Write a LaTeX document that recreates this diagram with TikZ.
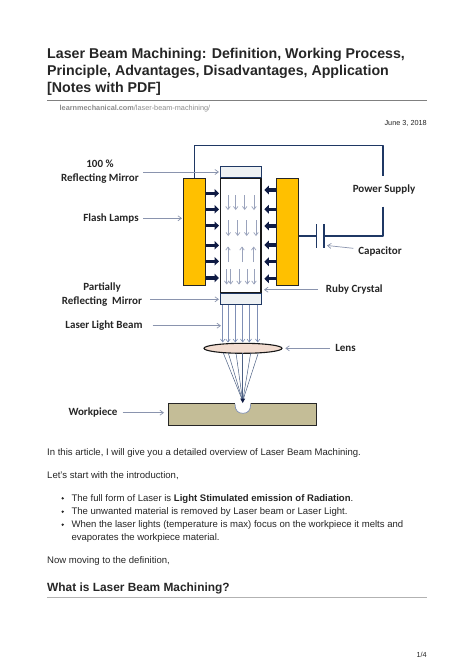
\documentclass[tikz,border=0pt]{standalone}
\usepackage{fontspec}
\setmainfont{Liberation Sans}
\newfontfamily\lbl{Carlito}
\usetikzlibrary{arrows.meta,shapes.geometric}
\definecolor{wire}{HTML}{1F3864}
\definecolor{pointer}{HTML}{8A94AE}
\definecolor{lamp}{HTML}{FFC000}
\definecolor{dark}{HTML}{0F1B44}
\definecolor{inner}{HTML}{9AA3BC}
\definecolor{beam}{HTML}{7F8FB5}
\definecolor{wp}{HTML}{C4BD97}
\definecolor{lensfill}{HTML}{F2DCD0}
\definecolor{mirrorfill}{HTML}{EEF1F3}
\tikzset{
 lbltext/.style={font=\lbl\bfseries\fontsize{11}{14}\selectfont,text=black!85,align=center,inner sep=0pt},
 pagetext/.style={font=\fontsize{9.55}{12}\selectfont,text=black!85,anchor=base west,inner sep=0pt},
 titletext/.style={font=\bfseries\fontsize{14.2}{17}\selectfont,text=black!85,anchor=base west,inner sep=0pt},
 wireline/.style={draw=wire,line width=1.1pt},
 pointerline/.style={draw=pointer,line width=.7pt,-{Straight Barb[length=3.5pt,width=5pt]}},
 pump/.style={draw=dark,line width=3.4pt,-{Triangle[length=4.5pt,width=8.5pt]}},
 innerarrow/.style={draw=inner,line width=.7pt,-{Straight Barb[length=3pt,width=4.5pt]}},
 beamline/.style={draw=beam,line width=.6pt,-{Straight Barb[length=3pt,width=4.5pt]}},
 focus/.style={draw=wire!80,line width=.5pt},
 lampbox/.style={draw=black!85,fill=lamp,line width=.9pt,inner sep=0pt,minimum width=22pt,minimum height=107pt},
 mirror/.style={draw=wire,fill=mirrorfill,line width=.9pt,inner sep=0pt,minimum width=40.3pt,minimum height=11pt},
}
\begin{document}
\begin{tikzpicture}[x=1pt,y=-1pt]
\useasboundingbox[fill=white] (0,0) rectangle (474,670);
% page text
\node[titletext] (t1) at (47,58) {Laser Beam Machining: Definition, Working Process,};
\node[titletext] (t2) at (47,75) {Principle, Advantages, Disadvantages, Application};
\node[titletext] (t3) at (47,92) {[Notes with PDF]};
\coordinate (r1a) at (47,100); \coordinate (r1b) at (427,100);
\draw[black!50,line width=.9pt] (r1a) -- (r1b);
\node[pagetext,font=\fontsize{7.3}{9}\selectfont,text=black!45] (url) at (59.5,110.5) {\textbf{learnmechanical.com}/laser-beam-machining/};
\node[pagetext,anchor=base east,font=\fontsize{7.3}{9}\selectfont] (date) at (427,125.5) {June 3, 2018};
\node[pagetext] (p1) at (47,455) {In this article, I will give you a detailed overview of Laser Beam Machining.};
\node[pagetext] (p2) at (47,478.5) {Let's start with the introduction,};
\node[pagetext] (b1) at (71.3,501) {The full form of Laser is \textbf{Light Stimulated emission of Radiation}.};
\node[pagetext] (b2) at (71.3,514) {The unwanted material is removed by Laser beam or Laser Light.};
\node[pagetext] (b3) at (71.3,527) {When the laser lights (temperature is max) focus on the workpiece it melts and};
\node[pagetext] (b3b) at (71.3,540) {evaporates the workpiece material.};
\foreach \yy in {498.3,511.7,524.7} \fill[black!85] (62.7,\yy) circle (1.3pt);
\node[pagetext] (p3) at (47,563) {Now moving to the definition,};
\node[titletext,font=\bfseries\fontsize{11.9}{15}\selectfont] (h2) at (47,591) {What is Laser Beam Machining?};
\coordinate (r2a) at (47,597.7); \coordinate (r2b) at (427,597.7);
\draw[black!30,line width=1.2pt] (r2a) -- (r2b);
\node[pagetext,anchor=base east,font=\fontsize{7.3}{9}\selectfont] (pg) at (427,657) {1/4};
% wires
\coordinate (w1) at (194.3,179); \coordinate (w2) at (194.3,145.7); \coordinate (w3) at (383,145.7); \coordinate (w4) at (383,176);
\coordinate (w5) at (383,206.7); \coordinate (w6) at (383,236); \coordinate (w7) at (324,236); \coordinate (w8) at (316.7,236); \coordinate (w9) at (298,236);
\draw[wireline,line join=round] (w1) -- (w2) -- (w3) -- (w4);
\draw[wireline,line join=round] (w5) -- (w6) -- (w7);
\draw[wireline] (w8) -- (w9);
\coordinate (c1a) at (316.7,224); \coordinate (c1b) at (316.7,247.5);
\coordinate (c2a) at (324,224); \coordinate (c2b) at (324,247.5);
\draw[wireline] (c1a) -- (c1b);
\draw[wireline] (c2a) -- (c2b);
% laser
\node[lampbox] (lampL) at (194.6,232.2) {};
\node[lampbox] (lampR) at (287,232.2) {};
\node[draw=black!90,fill=white,line width=1.1pt,inner sep=0pt,minimum width=40.3pt,minimum height=115pt] (tube) at (240.85,235.5) {};
\node[mirror] (mtop) at (240.85,172.4) {};
\node[mirror] (mbot) at (240.85,298.5) {};
\foreach \yy in {193.3,209.3,225.7,245.3,261.3,278} \draw[pump] (206,\yy) -- (219,\yy);
\foreach \yy in {190,209.3,226,245,261.7,278.7} \draw[pump] (275.7,\yy) -- (264.3,\yy);
\foreach \xx in {228,235.7,244.7,254} \draw[innerarrow] (\xx,195) -- (\xx,210);
\foreach \xx in {228.3,237.7,246.7,256} \draw[innerarrow] (\xx,220) -- (\xx,236);
\foreach \xx in {228,242,253.7} \draw[innerarrow] (\xx,262) -- (\xx,246.5);
\foreach \xx in {226.7,230.7,239,247.3,254} \draw[innerarrow] (\xx,269) -- (\xx,284.5);
% beam
\foreach \xx in {222.7,228,235.3,242.7,249.3,257.7} \draw[beamline] (\xx,304.5) -- (\xx,342.5);
\node[ellipse,draw=black!90,fill=lensfill,line width=1.1pt,inner sep=0pt,minimum width=78pt,minimum height=10pt] (lens) at (243,348.3) {};
% workpiece
\node[draw=black!85,fill=wp,line width=1pt,inner sep=0pt,minimum width=148pt,minimum height=22pt] (work) at (242.7,414.7) {};
\fill[white] (235,403.2) .. controls (235,410.5) and (238,413.3) .. (242.85,413.3) .. controls (247.7,413.3) and (250.7,410.5) .. (250.7,403.2) -- cycle;
\draw[beam,line width=.7pt] (235,404) .. controls (235,410.5) and (238,413.3) .. (242.85,413.3) .. controls (247.7,413.3) and (250.7,410.5) .. (250.7,404);
\coordinate (fp) at (242.7,401);
\foreach \xx in {223.3,228.3,236,242.7,250.7,258.3} \draw[focus] (\xx,353) -- (fp);
\fill[dark] (240.2,398.5) -- (245.2,398.5) -- (242.7,403) -- cycle;
% labels
\node[lbltext] (lmirror) at (100,172) {100 \%\\Reflecting Mirror};
\node[lbltext] (lflash) at (111,218.3) {Flash Lamps};
\node[lbltext] (lpart) at (102,294.8) {Partially\\Reflecting\ \ Mirror};
\node[lbltext] (lbeam) at (104,325.7) {Laser Light Beam};
\node[lbltext] (llens) at (345.5,348.3) {Lens};
\node[lbltext] (lwork) at (93,412.7) {Workpiece};
\node[lbltext] (lpower) at (384,190) {Power Supply};
\node[lbltext] (lcap) at (380,251.7) {Capacitor};
\node[lbltext] (lruby) at (354.3,289.7) {Ruby Crystal};
% pointers
\coordinate (pm) at (143,172); \coordinate (pf) at (143,218.3); \coordinate (pp) at (150,299.3);
\coordinate (pb) at (152.7,325.7); \coordinate (pl) at (330,348.3); \coordinate (pw) at (122.7,412.7);
\coordinate (pc) at (353.3,248.3); \coordinate (pr) at (318,289.7);
\coordinate (em) at (219,172); \coordinate (ef) at (182,218.3); \coordinate (ep) at (219,299.3);
\coordinate (eb) at (221,325.7); \coordinate (el) at (285.3,348.3); \coordinate (ew) at (164,412.7);
\coordinate (ec) at (327,245.5); \coordinate (er) at (264,289.7);
\draw[pointerline] (pm) -- (em);
\draw[pointerline] (pf) -- (ef);
\draw[pointerline] (pp) -- (ep);
\draw[pointerline] (pb) -- (eb);
\draw[pointerline] (pl) -- (el);
\draw[pointerline] (pw) -- (ew);
\draw[pointerline] (pc) -- (ec);
\draw[pointerline] (pr) -- (er);
\end{tikzpicture}
\end{document}
